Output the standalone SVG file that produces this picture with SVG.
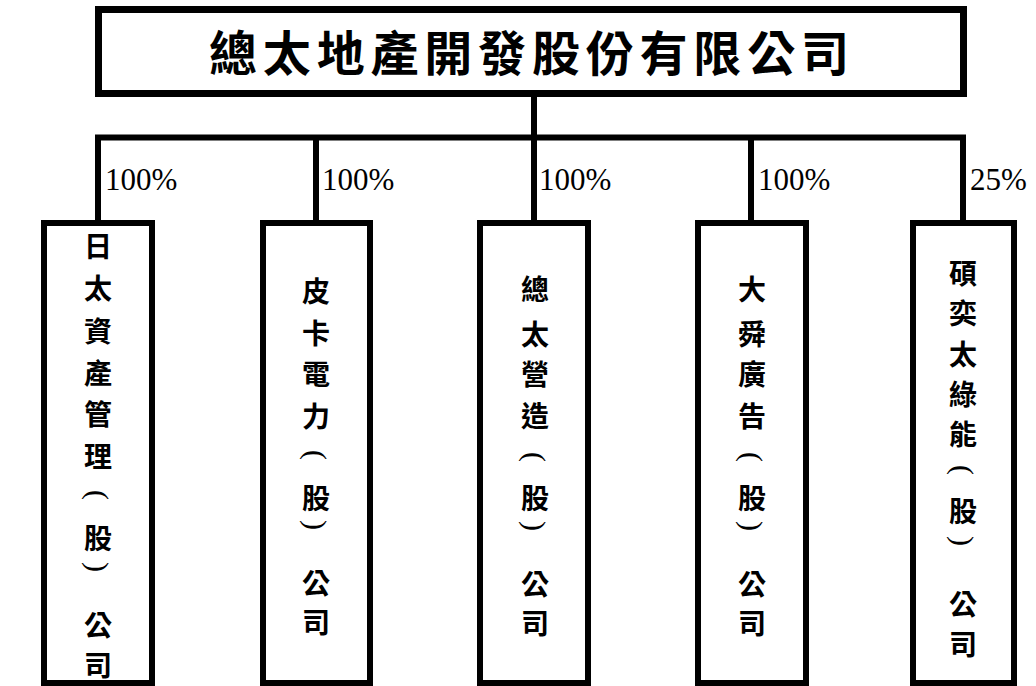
<svg xmlns="http://www.w3.org/2000/svg" width="1036" height="686" viewBox="0 0 1036 686">
<style>
.box{fill:#fff;stroke:#000;stroke-width:6}
.title{font-family:"Noto Sans CJK TC","Noto Sans CJK JP",sans-serif;font-weight:700;font-size:48px;fill:#000}
.ch{font-family:"Noto Sans CJK TC","Noto Sans CJK JP",sans-serif;font-weight:700;font-size:28px;fill:#000;text-anchor:middle;dominant-baseline:central}
.par{font-family:"Liberation Serif","Times New Roman",serif;font-size:30px;fill:#000;text-anchor:middle;dominant-baseline:central}
.pct{font-family:"Liberation Serif","Times New Roman",serif;font-size:31px;fill:#000}
.ln{fill:none;stroke:#000;stroke-width:6;stroke-linejoin:miter}
</style>
<rect width="1036" height="686" fill="#fff"/>
<g id="connectors">
<path class="ln" d="M98 220 V137.5 H963 V220"/>
<path class="ln" d="M534 96 V137.5"/>
<path class="ln" d="M316 137.5 V220"/>
<path class="ln" d="M534 137.5 V220"/>
<path class="ln" d="M751 137.5 V220"/>
<text class="pct" x="105" y="190">100%</text>
<text class="pct" x="322" y="190">100%</text>
<text class="pct" x="539" y="190">100%</text>
<text class="pct" x="758" y="190">100%</text>
<text class="pct" x="970" y="190">25%</text>
</g>
<g id="parent">
<rect x="98.5" y="9.5" width="865" height="84" fill="#fff" stroke="#000" stroke-width="7"/>
<text class="title" x="209" y="71" textLength="640" lengthAdjust="spacing">總太地產開發股份有限公司</text>
</g>
<g id="n1">
<rect class="box" x="44" y="223" width="108" height="460"/>
<g transform="translate(98,0)">
<text class="ch" x="0" y="245">日</text>
<text class="ch" x="0" y="287">太</text>
<text class="ch" x="0" y="330">資</text>
<text class="ch" x="0" y="372">產</text>
<text class="ch" x="0" y="413">管</text>
<text class="ch" x="0" y="455">理</text>
<text class="par" transform="translate(0,495) rotate(90)">(</text>
<text class="ch" x="0" y="537">股</text>
<text class="par" transform="translate(0,567) rotate(90)">)</text>
<text class="ch" x="0" y="624">公</text>
<text class="ch" x="0" y="664">司</text>
</g>
</g>
<g id="n2">
<rect class="box" x="263" y="223" width="107" height="460"/>
<g transform="translate(316,0)">
<text class="ch" x="0" y="290">皮</text>
<text class="ch" x="0" y="332">卡</text>
<text class="ch" x="0" y="373">電</text>
<text class="ch" x="0" y="415">力</text>
<text class="par" transform="translate(0,455) rotate(90)">(</text>
<text class="ch" x="0" y="497">股</text>
<text class="par" transform="translate(0,525) rotate(90)">)</text>
<text class="ch" x="0" y="582">公</text>
<text class="ch" x="0" y="621">司</text>
</g>
</g>
<g id="n3">
<rect class="box" x="480" y="223" width="108" height="460"/>
<g transform="translate(535,0)">
<text class="ch" x="0" y="288">總</text>
<text class="ch" x="0" y="333">太</text>
<text class="ch" x="0" y="373">營</text>
<text class="ch" x="0" y="415">造</text>
<text class="par" transform="translate(0,457) rotate(90)">(</text>
<text class="ch" x="0" y="497">股</text>
<text class="par" transform="translate(0,526) rotate(90)">)</text>
<text class="ch" x="0" y="583">公</text>
<text class="ch" x="0" y="622">司</text>
</g>
</g>
<g id="n4">
<rect class="box" x="698" y="223" width="108" height="460"/>
<g transform="translate(752,0)">
<text class="ch" x="0" y="288">大</text>
<text class="ch" x="0" y="333">舜</text>
<text class="ch" x="0" y="373">廣</text>
<text class="ch" x="0" y="415">告</text>
<text class="par" transform="translate(0,457) rotate(90)">(</text>
<text class="ch" x="0" y="497">股</text>
<text class="par" transform="translate(0,526) rotate(90)">)</text>
<text class="ch" x="0" y="583">公</text>
<text class="ch" x="0" y="622">司</text>
</g>
</g>
<g id="n5">
<rect class="box" x="913" y="223" width="101" height="460"/>
<g transform="translate(963,0)">
<text class="ch" x="0" y="272">碩</text>
<text class="ch" x="0" y="312">奕</text>
<text class="ch" x="0" y="353">太</text>
<text class="ch" x="0" y="393">綠</text>
<text class="ch" x="0" y="433">能</text>
<text class="par" transform="translate(0,470) rotate(90)">(</text>
<text class="ch" x="0" y="510">股</text>
<text class="par" transform="translate(0,541) rotate(90)">)</text>
<text class="ch" x="0" y="603">公</text>
<text class="ch" x="0" y="643">司</text>
</g>
</g>
</svg>
